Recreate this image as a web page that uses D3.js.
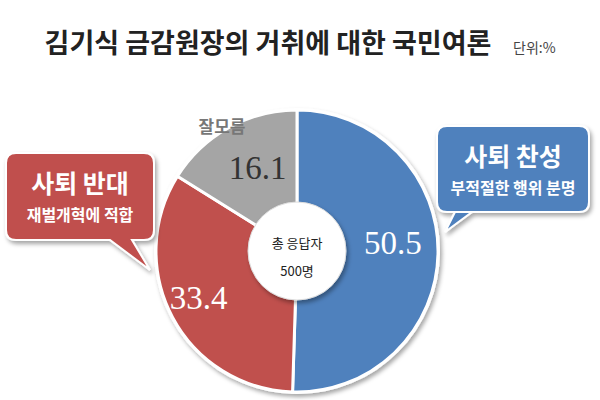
<!DOCTYPE html>
<html><head><meta charset="utf-8">
<script src="https://cdn.jsdelivr.net/npm/d3@7"></script>
<style>body{margin:0;background:#fff;font-family:"Noto Sans CJK KR",sans-serif}</style>
</head><body><div id="chart"></div>
<script>
const categories = ["사퇴 찬성", "사퇴 반대", "잘모름"];
const values = [50.5, 33.4, 16.1];
const colors = ["#4f81bd", "#c0504d", "#a5a5a5"];

const W = 600, H = 400, cx = 297, cy = 251;
const svg = d3.select("#chart").append("svg").attr("width", W).attr("height", H);

// title
svg.append("text").attr("x", 268).attr("y", 53).attr("text-anchor", "middle")
  .style("font-size", "27px").style("font-weight", "bold").attr("fill", "#222")
  .text("김기식 금감원장의 거취에 대한 국민여론");
svg.append("text").attr("x", 513).attr("y", 53).style("font-size", "14px").attr("fill", "#444").text("단위:%");

const defs = svg.append("defs");
const f = defs.append("filter").attr("id", "sh").attr("x", "-20%").attr("y", "-20%").attr("width", "140%").attr("height", "140%");
f.append("feDropShadow").attr("dx", 2).attr("dy", 3).attr("stdDeviation", 2).attr("flood-opacity", 0.35);

const pie = d3.pie().sort(null).value(d => d);
const arcs = pie(values);
const arc = d3.arc().innerRadius(47).outerRadius(141);
const g = svg.append("g").attr("transform", `translate(${cx},${cy})`);
g.append("circle").attr("r", 143).attr("fill", "#fff").attr("filter", "url(#sh)");
g.selectAll("path").data(arcs).enter().append("path")
  .attr("d", arc).attr("fill", (d, i) => colors[i]).attr("stroke", "#fff").attr("stroke-width", 3);
g.append("circle").attr("r", 49).attr("fill", "#fff").attr("stroke", "#ddd").attr("stroke-width", 1).attr("filter", "url(#sh)");

const labArc = d3.arc().innerRadius(98).outerRadius(98);
g.selectAll(".val").data(arcs).enter().append("text")
  .attr("transform", (d, i) => {
    const c = labArc.centroid(d);
    const adj = [[-2, -10], [-12, 0], [8, 2]][i];
    return `translate(${c[0] + adj[0]},${c[1] + adj[1]})`;
  })
  .attr("text-anchor", "middle").attr("dy", "0.35em")
  .style("font-family", "Liberation Serif").style("font-size", "33px")
  .attr("fill", (d, i) => i === 2 ? "#333" : "#fff")
  .text(d => d.data.toFixed(1));

g.append("text").attr("y", -3).attr("text-anchor", "middle").style("font-size", "13px").attr("fill", "#222").text("총 응답자");
g.append("text").attr("y", 25).attr("text-anchor", "middle").style("font-size", "13px").attr("fill", "#222").text("500명");

svg.append("text").attr("x", 222).attr("y", 133).attr("text-anchor", "middle")
  .style("font-size", "17px").style("font-weight", "bold").attr("fill", "#777").text(categories[2]);

// callouts
function bubble(x, y, w, h, tail, color, t1, t2) {
  const r = 10;
  const p = d3.path();
  p.moveTo(x + r, y); p.lineTo(x + w - r, y); p.quadraticCurveTo(x + w, y, x + w, y + r);
  p.lineTo(x + w, y + h - r); p.quadraticCurveTo(x + w, y + h, x + w - r, y + h);
  if (tail.side === "right") {
    p.lineTo(tail.a, y + h); p.lineTo(tail.tx, tail.ty); p.lineTo(tail.b, y + h);
  } else {
    p.lineTo(tail.b, y + h); p.lineTo(tail.tx, tail.ty); p.lineTo(tail.a, y + h);
  }
  p.lineTo(x + r, y + h); p.quadraticCurveTo(x, y + h, x, y + h - r);
  p.lineTo(x, y + r); p.quadraticCurveTo(x, y, x + r, y); p.closePath();
  svg.append("path").attr("d", p.toString()).attr("fill", color).attr("stroke", "#fff").attr("stroke-width", 2).attr("filter", "url(#sh)");
  svg.append("text").attr("x", x + w / 2).attr("y", y + 40).attr("text-anchor", "middle")
    .style("font-size", "25px").style("font-weight", "bold").attr("fill", "#fff").text(t1);
  svg.append("text").attr("x", x + w / 2).attr("y", y + 68).attr("text-anchor", "middle")
    .style("font-size", "16px").style("font-weight", "bold").attr("fill", "#fff").text(t2);
}
bubble(6, 153, 148, 87, { side: "right", a: 132, b: 110, tx: 150, ty: 270 }, colors[1], categories[1], "재벌개혁에 적합");
bubble(437, 126, 152, 86, { side: "left", a: 472, b: 455, tx: 445, ty: 232 }, colors[0], categories[0], "부적절한 행위 분명");
</script></body></html>
